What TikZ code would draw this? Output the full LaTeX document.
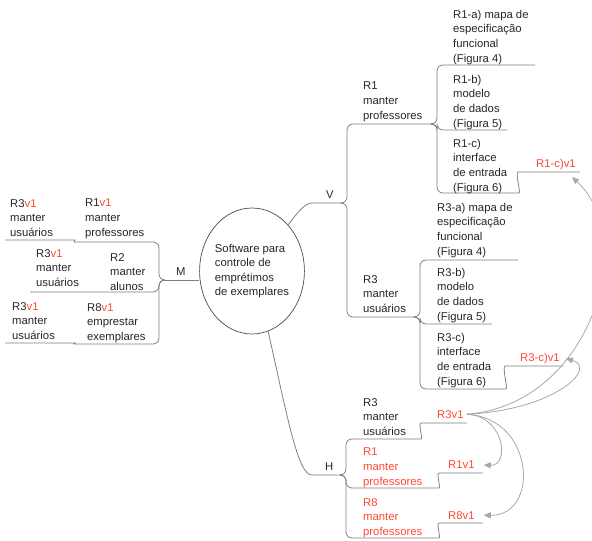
\documentclass[tikz,border=0pt]{standalone}
\usepackage{fontspec}
\setmainfont{Liberation Sans}
\usetikzlibrary{shapes.geometric,arrows.meta}
\definecolor{vermelho}{RGB}{255,72,52}
\definecolor{cinza}{RGB}{128,128,128}
\definecolor{cinzaclaro}{RGB}{168,168,168}
\newcommand{\vum}{\textcolor{vermelho}{v1}}

\begin{document}
\begin{tikzpicture}[x=1pt,y=-1pt,>={Triangle[length=7pt,width=6pt]},
  txt/.style={font=\fontsize{11.3}{14.6}\selectfont,align=left,anchor=north west,inner sep=0pt,text=black!85},
  verm/.style={txt,text=vermelho},
  ramo/.style={draw=cinza,line width=0.8pt,rounded corners=6pt},
  seta/.style={->,draw=cinzaclaro,line width=0.8pt}]

\useasboundingbox (0,0) rectangle (592,541);

% No central
\node[ellipse,draw=black!70,line width=0.7pt,minimum width=86pt,minimum height=126pt,inner sep=0pt,
  align=left,font=\fontsize{11.3}{14.6}\selectfont,text=black!85] (sw) at (252,271)
  {Software para\\controle de\\emprétimos\\de exemplares};

% Ramo M
\node[txt] (M) at (176,268) {M};
\coordinate (jM) at (165,280);
\draw[ramo] (jM -| sw.west) -- (jM);
\coordinate (mA) at (5,240);
\coordinate (mB) at (30,292);
\coordinate (mC) at (5,343);
\draw[ramo] (jM) -- ++(-6,0) |- (80,242) .. controls (74,242) and (75,240) .. (69,240) -- (mA);
\draw[ramo] (jM) -- ++(-6,0) |- (mB);
\draw[ramo] (jM) -- ++(-6,0) |- (80,344) .. controls (74,344) and (75,343) .. (69,343) -- (mC);

\node[txt] (uA) at (10,199) {R3\vum\\manter\\usuários};
\node[txt] (pA) at (85,199) {R1\vum\\manter\\professores};
\node[txt] (uB) at (36,249) {R3\vum\\manter\\usuários};
\node[txt] (aB) at (110,253) {R2\\manter\\alunos};
\node[txt] (uC) at (12,302) {R3\vum\\manter\\usuários};
\node[txt] (eC) at (87,303) {R8\vum\\emprestar\\exemplares};

% Ramo V
\node[txt] (V) at (326,191) {V};
\coordinate (jV) at (342,203);
\draw[ramo] (sw.52) .. controls (297,213) and (305,203) .. (318,203) -- (jV);
\coordinate (jR1) at (432,124);
\coordinate (jR3) at (415,317);
\draw[ramo] (jV) -- ++(5,0) |- (jR1);
\draw[ramo] (jV) -- ++(5,0) |- (jR3);

% R1
\node[txt] (R1) at (363,82) {R1\\manter\\professores};
\coordinate (a1) at (535,65);
\coordinate (b1) at (507,130);
\coordinate (c1) at (580,172);
\draw[ramo] (jR1) -- ++(5,0) |- (a1);
\draw[ramo] (jR1) -- ++(5,0) |- (b1);
\draw[ramo] (jR1) -- ++(5,0) |- (513,193) .. controls (521,193) and (515,172) .. (524,172) -- (c1);
\node[txt] (R1a) at (453,10) {R1-a) mapa de\\especificação\\funcional\\(Figura 4)};
\node[txt] (R1b) at (453,75) {R1-b)\\modelo\\de dados\\(Figura 5)};
\node[txt] (R1c) at (453,139) {R1-c)\\interface\\de entrada\\(Figura 6)};
\node[verm] (c1v) at (536,159) {R1-c)v1};

% R3
\node[txt] (R3) at (363,275) {R3\\manter\\usuários};
\coordinate (a3) at (518,260);
\coordinate (b3) at (492,324);
\coordinate (c3) at (563,366);
\draw[ramo] (jR3) -- ++(5,0) |- (a3);
\draw[ramo] (jR3) -- ++(5,0) |- (b3);
\draw[ramo] (jR3) -- ++(5,0) |- (500,389) .. controls (508,389) and (502,366) .. (511,366) -- (c3);
\node[txt] (R3a) at (437,203) {R3-a) mapa de\\especificação\\funcional\\(Figura 4)};
\node[txt] (R3b) at (437,268) {R3-b)\\modelo\\de dados\\(Figura 5)};
\node[txt] (R3c) at (437,333) {R3-c)\\interface\\de entrada\\(Figura 6)};
\node[verm] (c3v) at (520,353) {R3-c)v1};

% Ramo H
\node[txt] (H) at (325,463) {H};
\coordinate (jH) at (342,475);
\draw[ramo] (sw.285) .. controls (288,420) and (298,475) .. (318,475) -- (jH);
\coordinate (h3) at (467,423);
\coordinate (h1) at (483,473);
\coordinate (h8) at (483,523);
\draw[ramo] (jH) -- ++(4,0) |- (415,439) .. controls (423,439) and (418,423) .. (427,423) -- (h3);
\draw[ramo] (jH) -- ++(4,0) |- (433,488) .. controls (441,488) and (436,473) .. (445,473) -- (h1);
\draw[ramo] (jH) -- ++(4,0) |- (433,538) .. controls (441,538) and (436,523) .. (445,523) -- (h8);
\node[txt] (HR3) at (363,398) {R3\\manter\\usuários};
\node[verm] (HR1) at (363,448) {R1\\manter\\professores};
\node[verm] (HR8) at (363,498) {R8\\manter\\professores};
\node[verm] (v3) at (437,410) {R3v1};
\node[verm] (v1) at (448,461) {R1v1};
\node[verm] (v8) at (448,511) {R8v1};

% Setas
\coordinate (tc1) at (572,177);
\draw[seta] ([xshift=3pt]v3.east) .. controls (590,405) and (640,240) .. (tc1);
\draw[seta] ([xshift=3pt]v3.east) .. controls (555,410) and (598,368) .. ([xshift=6pt]c3v.east);
\draw[seta] ([xshift=3pt]v3.east) .. controls (505,416) and (510,466) .. ([xshift=9pt]v1.east);
\draw[seta] ([xshift=3pt]v3.east) .. controls (535,418) and (540,516) .. ([xshift=9pt]v8.east);

\end{tikzpicture}
\end{document}
